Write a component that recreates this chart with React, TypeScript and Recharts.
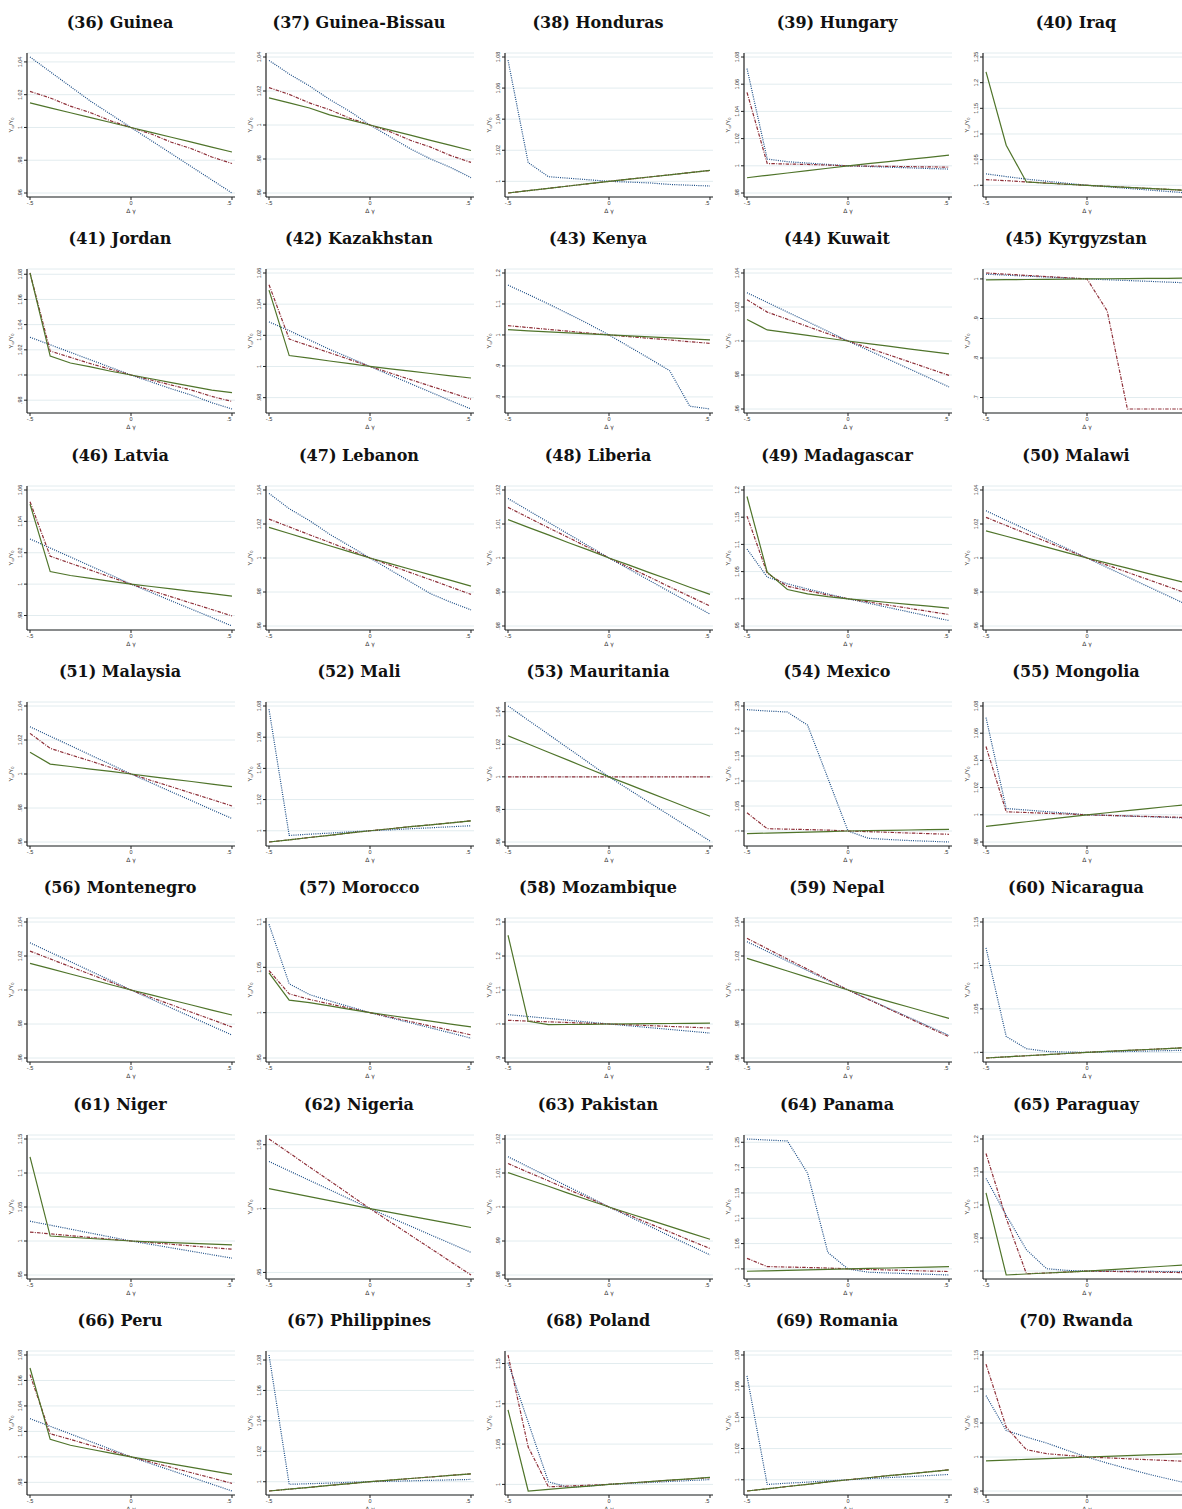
import React from "react";
import { LineChart, Line, XAxis, YAxis, CartesianGrid } from "recharts";

// x grid of the simulation (Δγ)
const xValues = [-0.5, -0.4, -0.3, -0.2, -0.1, 0, 0.1, 0.2, 0.3, 0.4, 0.5];
const xTicks = [-0.5, 0, 0.5];

const titles = [
  "(36) Guinea", "(37) Guinea-Bissau", "(38) Honduras", "(39) Hungary", "(40) Iraq",
  "(41) Jordan", "(42) Kazakhstan", "(43) Kenya", "(44) Kuwait", "(45) Kyrgyzstan",
  "(46) Latvia", "(47) Lebanon", "(48) Liberia", "(49) Madagascar", "(50) Malawi",
  "(51) Malaysia", "(52) Mali", "(53) Mauritania", "(54) Mexico", "(55) Mongolia",
  "(56) Montenegro", "(57) Morocco", "(58) Mozambique", "(59) Nepal", "(60) Nicaragua",
  "(61) Niger", "(62) Nigeria", "(63) Pakistan", "(64) Panama", "(65) Paraguay",
  "(66) Peru", "(67) Philippines", "(68) Poland", "(69) Romania", "(70) Rwanda",
];

const yTicks = [
  [0.96, 0.98, 1, 1.02, 1.04],
  [0.96, 0.98, 1, 1.02, 1.04],
  [1, 1.02, 1.04, 1.06, 1.08],
  [0.98, 1, 1.02, 1.04, 1.06, 1.08],
  [1, 1.05, 1.1, 1.15, 1.2, 1.25],
  [0.98, 1, 1.02, 1.04, 1.06, 1.08],
  [0.98, 1, 1.02, 1.04, 1.06],
  [0.8, 0.9, 1, 1.1, 1.2],
  [0.96, 0.98, 1, 1.02, 1.04],
  [0.7, 0.8, 0.9, 1],
  [0.98, 1, 1.02, 1.04, 1.06],
  [0.96, 0.98, 1, 1.02, 1.04],
  [0.98, 0.99, 1, 1.01, 1.02],
  [0.95, 1, 1.05, 1.1, 1.15, 1.2],
  [0.96, 0.98, 1, 1.02, 1.04],
  [0.96, 0.98, 1, 1.02, 1.04],
  [1, 1.02, 1.04, 1.06, 1.08],
  [0.96, 0.98, 1, 1.02, 1.04],
  [1, 1.05, 1.1, 1.15, 1.2, 1.25],
  [0.98, 1, 1.02, 1.04, 1.06, 1.08],
  [0.96, 0.98, 1, 1.02, 1.04],
  [0.95, 1, 1.05, 1.1],
  [0.9, 1, 1.1, 1.2, 1.3],
  [0.96, 0.98, 1, 1.02, 1.04],
  [1, 1.05, 1.1, 1.15],
  [0.95, 1, 1.05, 1.1, 1.15],
  [0.95, 1, 1.05],
  [0.98, 0.99, 1, 1.01, 1.02],
  [1, 1.05, 1.1, 1.15, 1.2, 1.25],
  [1, 1.05, 1.1, 1.15, 1.2],
  [0.98, 1, 1.02, 1.04, 1.06, 1.08],
  [1, 1.02, 1.04, 1.06, 1.08],
  [1, 1.05, 1.1, 1.15],
  [1, 1.02, 1.04, 1.06, 1.08],
  [0.95, 1, 1.05, 1.1, 1.15],
];

// blue dotted series
const blueSeries = [
  [1.043, 1.034, 1.025, 1.016, 1.008, 1, 0.992, 0.984, 0.976, 0.968, 0.96],
  [1.038, 1.03, 1.023, 1.015, 1.008, 1, 0.993, 0.986, 0.98, 0.975, 0.969],
  [1.078, 1.012, 1.003, 1.002, 1.001, 1, 0.9995, 0.999, 0.998, 0.9975, 0.997],
  [1.0715, 1.005, 1.003, 1.002, 1.001, 1, 0.9995, 0.999, 0.9985, 0.998, 0.9976],
  [1.0223, 1.017, 1.012, 1.008, 1.004, 1, 0.997, 0.994, 0.991, 0.988, 0.985],
  [1.03, 1.024, 1.018, 1.012, 1.006, 1, 0.9945, 0.989, 0.984, 0.978, 0.973],
  [1.0286, 1.023, 1.017, 1.011, 1.0055, 1, 0.9945, 0.989, 0.9835, 0.978, 0.9727],
  [1.161, 1.131, 1.1, 1.068, 1.035, 1, 0.962, 0.924, 0.885, 0.77, 0.761],
  [1.0284, 1.0227, 1.017, 1.0114, 1.0057, 1, 0.9946, 0.9892, 0.9838, 0.9784, 0.973],
  [1.012, 1.0096, 1.0072, 1.0048, 1.0024, 1, 0.998, 0.996, 0.994, 0.992, 0.99],
  [1.0288, 1.023, 1.0173, 1.0115, 1.0058, 1, 0.9947, 0.9893, 0.984, 0.9787, 0.9733],
  [1.038, 1.029, 1.022, 1.014, 1.007, 1, 0.993, 0.986, 0.979, 0.974, 0.9695],
  [1.0175, 1.014, 1.0105, 1.007, 1.0035, 1, 0.9967, 0.9934, 0.9901, 0.9868, 0.9835],
  [1.0915, 1.04, 1.0275, 1.018, 1.009, 1, 0.992, 0.984, 0.976, 0.968, 0.96],
  [1.0278, 1.0222, 1.0167, 1.0111, 1.0056, 1, 0.9944, 0.9889, 0.9833, 0.9778, 0.9722],
  [1.0278, 1.0222, 1.0167, 1.0111, 1.0056, 1, 0.9948, 0.9895, 0.9843, 0.979, 0.9738],
  [1.0779, 0.997, 0.9978, 0.9985, 0.9993, 1, 1.0006, 1.0013, 1.0019, 1.0026, 1.0032],
  [1.0435, 1.0348, 1.0261, 1.0174, 1.0087, 1, 0.9921, 0.9842, 0.9764, 0.9685, 0.9606],
  [1.2427, 1.24, 1.238, 1.2116, 1.106, 1, 0.9855, 0.983, 0.981, 0.9795, 0.978],
  [1.0715, 1.0046, 1.0035, 1.0023, 1.0012, 1, 0.9995, 0.999, 0.9986, 0.9981, 0.9976],
  [1.0278, 1.0222, 1.0167, 1.0111, 1.0056, 1, 0.9947, 0.9894, 0.9841, 0.9788, 0.9735],
  [1.0975, 1.0318, 1.02, 1.013, 1.0065, 1, 0.9944, 0.9888, 0.9832, 0.9776, 0.9719],
  [1.0275, 1.022, 1.0165, 1.011, 1.0055, 1, 0.9947, 0.9894, 0.9841, 0.9788, 0.9735],
  [1.0284, 1.0227, 1.017, 1.0114, 1.0057, 1, 0.9947, 0.9893, 0.984, 0.9786, 0.9733],
  [1.1202, 1.0183, 1.0042, 1.0011, 1.0003, 1, 1.0005, 1.001, 1.0015, 1.002, 1.0025],
  [1.0291, 1.0233, 1.0175, 1.0116, 1.0058, 1, 0.995, 0.9899, 0.9849, 0.9798, 0.9748],
  [1.0369, 1.0295, 1.0221, 1.0148, 1.0074, 1, 0.9931, 0.9863, 0.9794, 0.9726, 0.9657],
  [1.0148, 1.0118, 1.0089, 1.0059, 1.003, 1, 0.9972, 0.9944, 0.9915, 0.9887, 0.9859],
  [1.2565, 1.2545, 1.2526, 1.189, 1.0326, 1, 0.9935, 0.9921, 0.9907, 0.9894, 0.988],
  [1.1403, 1.0846, 1.0323, 1.0035, 1.001, 1, 0.9998, 0.9996, 0.9994, 0.9992, 0.999],
  [1.03, 1.024, 1.018, 1.012, 1.006, 1, 0.9946, 0.9893, 0.9839, 0.9786, 0.9732],
  [1.0833, 0.9983, 0.9987, 0.9991, 0.9996, 1, 1.0003, 1.0006, 1.0009, 1.0012, 1.0015],
  [1.1512, 1.0772, 1.0033, 0.9963, 0.998, 1, 1.0012, 1.0024, 1.0036, 1.0048, 1.006],
  [1.0666, 0.997, 0.9978, 0.9985, 0.9993, 1, 1.0007, 1.0014, 1.002, 1.0027, 1.0034],
  [1.0902, 1.039, 1.0293, 1.0205, 1.01, 1, 0.991, 0.983, 0.975, 0.968, 0.961],
];

// red dash-dot series
const redSeries = [
  [1.022, 1.018, 1.013, 1.009, 1.004, 1, 0.996, 0.991, 0.987, 0.982, 0.978],
  [1.022, 1.018, 1.013, 1.009, 1.004, 1, 0.996, 0.991, 0.987, 0.982, 0.978],
  [0.9925, 0.994, 0.9955, 0.997, 0.9985, 1, 1.0014, 1.0028, 1.0042, 1.0056, 1.007],
  [1.054, 1.0017, 1.0013, 1.001, 1.0005, 1, 0.9998, 0.9996, 0.9994, 0.9992, 0.999],
  [1.011, 1.009, 1.0065, 1.0045, 1.002, 1, 0.998, 0.996, 0.994, 0.992, 0.99],
  [1.081, 1.019, 1.014, 1.009, 1.0045, 1, 0.996, 0.992, 0.988, 0.983, 0.979],
  [1.0525, 1.0176, 1.0132, 1.0088, 1.0044, 1, 0.9958, 0.9916, 0.9874, 0.9832, 0.979],
  [1.03, 1.024, 1.018, 1.012, 1.006, 1, 0.9945, 0.989, 0.984, 0.978, 0.973],
  [1.0243, 1.017, 1.0128, 1.0085, 1.0043, 1, 0.996, 0.9919, 0.9879, 0.9838, 0.9798],
  [1.015, 1.012, 1.009, 1.006, 1.003, 1, 0.919, 0.671, 0.671, 0.671, 0.671],
  [1.0525, 1.0178, 1.0133, 1.0089, 1.0044, 1, 0.9959, 0.9919, 0.9878, 0.9838, 0.9797],
  [1.0229, 1.0183, 1.0137, 1.0092, 1.0046, 1, 0.9957, 0.9914, 0.9872, 0.9829, 0.9786],
  [1.0149, 1.0119, 1.0089, 1.006, 1.003, 1, 0.9972, 0.9944, 0.9915, 0.9887, 0.9859],
  [1.152, 1.047, 1.023, 1.015, 1.007, 1, 0.9942, 0.9884, 0.9826, 0.9768, 0.971],
  [1.0239, 1.0191, 1.0143, 1.0096, 1.0048, 1, 0.9958, 0.9916, 0.9874, 0.9832, 0.979],
  [1.0239, 1.0151, 1.0113, 1.0076, 1.0038, 1, 0.9962, 0.9925, 0.9887, 0.985, 0.9812],
  [0.9928, 0.9942, 0.9957, 0.9971, 0.9986, 1, 1.0013, 1.0026, 1.0038, 1.0051, 1.0064],
  [1, 1, 1, 1, 1, 1, 1, 1, 1, 1, 1],
  [1.0364, 1.0046, 1.0037, 1.0028, 1.0018, 1, 0.9987, 0.9974, 0.996, 0.9947, 0.9934],
  [1.0502, 1.0022, 1.0017, 1.0011, 1.0006, 1, 0.9996, 0.9992, 0.9988, 0.9984, 0.998],
  [1.0229, 1.0183, 1.0137, 1.0092, 1.0046, 1, 0.9956, 0.9913, 0.9869, 0.9826, 0.9782],
  [1.0464, 1.0208, 1.0146, 1.0097, 1.0048, 1, 0.9951, 0.9902, 0.9853, 0.9804, 0.9755],
  [1.0108, 1.0086, 1.0065, 1.0043, 1.0022, 1, 0.9976, 0.9953, 0.9929, 0.9906, 0.9882],
  [1.0304, 1.0243, 1.0182, 1.0122, 1.0061, 1, 0.9945, 0.989, 0.9835, 0.978, 0.9725],
  [0.9935, 0.9948, 0.9961, 0.9974, 0.9987, 1, 1.0011, 1.0022, 1.0033, 1.0044, 1.0055],
  [1.0131, 1.0105, 1.0079, 1.0052, 1.0026, 1, 0.9976, 0.9952, 0.9927, 0.9903, 0.9879],
  [1.0545, 1.0436, 1.0327, 1.0218, 1.0109, 1, 0.9896, 0.9792, 0.9688, 0.9584, 0.948],
  [1.0128, 1.0102, 1.0077, 1.0051, 1.0026, 1, 0.9976, 0.9951, 0.9927, 0.9902, 0.9878],
  [1.0209, 1.0046, 1.0037, 1.0028, 1.0018, 1, 0.999, 0.9979, 0.9969, 0.9958, 0.9948],
  [1.178, 1.08, 0.996, 0.997, 0.9985, 1, 0.9995, 0.999, 0.9985, 0.998, 0.9975],
  [1.0646, 1.0182, 1.0137, 1.0091, 1.0046, 1, 0.9958, 0.9917, 0.9875, 0.9834, 0.9792],
  [0.9939, 0.9951, 0.9963, 0.9976, 0.9988, 1, 1.001, 1.0021, 1.0031, 1.0042, 1.0052],
  [1.1606, 1.0464, 0.997, 0.998, 0.999, 1, 1.0017, 1.0034, 1.005, 1.0067, 1.0084],
  [0.9928, 0.9942, 0.9957, 0.9971, 0.9986, 1, 1.0013, 1.0026, 1.0038, 1.0051, 1.0064],
  [1.1366, 1.0439, 1.0107, 1.0049, 1.0024, 1, 0.9987, 0.9974, 0.9961, 0.9948, 0.9935],
];

// green solid series
const greenSeries = [
  [1.015, 1.012, 1.009, 1.006, 1.003, 1, 0.997, 0.994, 0.991, 0.988, 0.985],
  [1.016, 1.013, 1.01, 1.006, 1.003, 1, 0.997, 0.994, 0.991, 0.988, 0.985],
  [0.9925, 0.994, 0.9955, 0.997, 0.9985, 1, 1.0014, 1.0028, 1.0042, 1.0056, 1.007],
  [0.9912, 0.993, 0.9947, 0.9965, 0.9982, 1, 1.0016, 1.0031, 1.0047, 1.0062, 1.0078],
  [1.221, 1.078, 1.0065, 1.004, 1.002, 1, 0.998, 0.996, 0.994, 0.992, 0.99],
  [1.081, 1.015, 1.0095, 1.0065, 1.003, 1, 0.997, 0.994, 0.991, 0.988, 0.986],
  [1.049, 1.007, 1.0053, 1.0035, 1.0018, 1, 0.9985, 0.997, 0.9955, 0.994, 0.9926],
  [1.017, 1.0135, 1.01, 1.0068, 1.0034, 1, 0.9968, 0.9936, 0.9904, 0.9872, 0.984],
  [1.0127, 1.0065, 1.0049, 1.0033, 1.0016, 1, 0.9985, 0.997, 0.9954, 0.9939, 0.9924],
  [0.9975, 0.998, 0.9985, 0.999, 0.9995, 1, 1.0004, 1.0008, 1.0012, 1.0016, 1.002],
  [1.051, 1.008, 1.0055, 1.0037, 1.0018, 1, 0.9985, 0.997, 0.9954, 0.9939, 0.9924],
  [1.018, 1.0144, 1.0108, 1.0072, 1.0036, 1, 0.9967, 0.9934, 0.9901, 0.9868, 0.9835],
  [1.0113, 1.009, 1.0068, 1.0045, 1.0023, 1, 0.9979, 0.9957, 0.9936, 0.9914, 0.9893],
  [1.188, 1.049, 1.017, 1.009, 1.004, 1, 0.9966, 0.9932, 0.9898, 0.9864, 0.983],
  [1.016, 1.0128, 1.0096, 1.0064, 1.0032, 1, 0.997, 0.994, 0.991, 0.988, 0.985],
  [1.0128, 1.0058, 1.0044, 1.0029, 1.0015, 1, 0.9985, 0.997, 0.9956, 0.9941, 0.9926],
  [0.9928, 0.9942, 0.9957, 0.9971, 0.9986, 1, 1.0013, 1.0026, 1.0038, 1.0051, 1.0064],
  [1.0252, 1.0202, 1.0151, 1.0101, 1.005, 1, 0.9952, 0.9903, 0.9855, 0.9806, 0.9758],
  [0.9947, 0.9958, 0.9968, 0.9979, 0.9989, 1, 1.0007, 1.0013, 1.002, 1.0026, 1.0033],
  [0.9915, 0.9932, 0.9949, 0.9966, 0.9983, 1, 1.0015, 1.003, 1.0046, 1.0061, 1.0076],
  [1.0157, 1.0126, 1.0094, 1.0063, 1.0031, 1, 0.9971, 0.9941, 0.9912, 0.9882, 0.9853],
  [1.0438, 1.0139, 1.011, 1.0074, 1.0037, 1, 0.9969, 0.9937, 0.9906, 0.9874, 0.9843],
  [1.261, 1.0078, 0.998, 0.9985, 0.999, 1, 1.0005, 1.001, 1.0015, 1.002, 1.0025],
  [1.0186, 1.0149, 1.0112, 1.0074, 1.0037, 1, 0.9967, 0.9933, 0.99, 0.9866, 0.9833],
  [0.9935, 0.9948, 0.9961, 0.9974, 0.9987, 1, 1.0011, 1.0022, 1.0033, 1.0044, 1.0055],
  [1.1238, 1.0073, 1.0055, 1.0037, 1.0018, 1, 0.9988, 0.9977, 0.9965, 0.9954, 0.9942],
  [1.0156, 1.0125, 1.0094, 1.0062, 1.0031, 1, 0.997, 0.9941, 0.9911, 0.9882, 0.9852],
  [1.0101, 1.0081, 1.0061, 1.004, 1.002, 1, 0.9981, 0.9962, 0.9943, 0.9924, 0.9905],
  [0.9954, 0.9963, 0.9972, 0.9982, 0.9991, 1, 1.0009, 1.0018, 1.0028, 1.0037, 1.0046],
  [1.1184, 0.994, 0.9955, 0.997, 0.9985, 1, 1.0019, 1.0038, 1.0057, 1.0076, 1.0095],
  [1.0698, 1.0138, 1.0091, 1.006, 1.003, 1, 0.9972, 0.9945, 0.9917, 0.989, 0.9862],
  [0.9939, 0.9951, 0.9963, 0.9976, 0.9988, 1, 1.001, 1.0021, 1.0031, 1.0042, 1.0052],
  [1.0925, 0.9918, 0.9938, 0.9959, 0.9979, 1, 1.0017, 1.0034, 1.0052, 1.0069, 1.0086],
  [0.9928, 0.9942, 0.9957, 0.9971, 0.9986, 1, 1.0013, 1.0026, 1.0038, 1.0051, 1.0064],
  [0.9942, 0.9954, 0.9965, 0.9977, 0.9988, 1, 1.001, 1.002, 1.003, 1.004, 1.005],
];

const PANEL_W = 239.1;
const PANEL_H = 216.3;
const CHART_W = 239;
const CHART_H = 216;

const BLUE = "#1b4d86";
const RED = "#8e2f38";
const GREEN = "#4f742a";
const AXIS = "#222";

// stata style labels: .98 instead of 0.98
const fmt = (v: number) => String(v).replace(/^0\./, ".").replace(/^-0\./, "-.");

const XTick = (props: any) => {
  const { x, y, payload } = props;
  return (
    <text x={x} y={y} dy="0.71em" textAnchor="middle" fontSize={5.5} fill="#333" fontFamily="Liberation Sans, Arial, sans-serif">
      {fmt(payload.value)}
    </text>
  );
};

const YTick = (props: any) => {
  const { x, y, payload } = props;
  return (
    <text
      x={x}
      y={y}
      transform={`rotate(-90 ${x} ${y})`}
      textAnchor="middle"
      fontSize={5.5}
      fill="#333"
      fontFamily="Liberation Sans, Arial, sans-serif"
    >
      {fmt(payload.value)}
    </text>
  );
};

const Panel = ({ index }: { index: number }) => {
  const blue = blueSeries[index];
  const red = redSeries[index];
  const green = greenSeries[index];
  const ticks = yTicks[index];
  const rows = xValues.map((x, i) => ({ x, blue: blue[i], red: red[i], green: green[i] }));

  const all = [...blue, ...red, ...green, ...ticks];
  const lo = Math.min(...all);
  const hi = Math.max(...all);
  const pad = ((hi - lo) * 4) / 136;

  const col = index % 5;
  const row = Math.floor(index / 5);

  return (
    <div style={{ position: "absolute", left: col * PANEL_W, top: row * PANEL_H, width: CHART_W, height: CHART_H }}>
      <LineChart width={CHART_W} height={CHART_H} data={rows} margin={{ top: 53, right: 4, bottom: 0, left: 0 }}>
        <CartesianGrid vertical={false} stroke="#e2ecef" strokeWidth={1} />
        <XAxis
          dataKey="x"
          type="number"
          domain={[-0.5149, 0.5149]}
          ticks={xTicks}
          allowDataOverflow
          height={19}
          tickSize={3}
          tickMargin={1}
          tick={XTick}
          axisLine={{ stroke: AXIS, strokeWidth: 1.2 }}
          tickLine={{ stroke: AXIS }}
        />
        <YAxis
          type="number"
          domain={[lo - pad, hi + pad]}
          ticks={ticks}
          interval={0}
          allowDataOverflow
          width={27}
          tickSize={3}
          tickMargin={2}
          tick={YTick}
          axisLine={{ stroke: AXIS, strokeWidth: 1.2 }}
          tickLine={{ stroke: AXIS }}
        />
        <Line type="linear" dataKey="blue" stroke={BLUE} strokeWidth={1.2} strokeDasharray="1 1.2" dot={false} isAnimationActive={false} />
        <Line type="linear" dataKey="red" stroke={RED} strokeWidth={1.2} strokeDasharray="3.5 1.3 1 1.3" dot={false} isAnimationActive={false} />
        <Line type="linear" dataKey="green" stroke={GREEN} strokeWidth={1.2} dot={false} isAnimationActive={false} />
      </LineChart>
      <svg width={CHART_W} height={CHART_H} style={{ position: "absolute", left: 0, top: 0, pointerEvents: "none" }}>
        <text x={120} y={28} textAnchor="middle" fontFamily="DejaVu Serif, serif" fontWeight="bold" fontSize={16} fill="#111">
          {titles[index]}
        </text>
        <text
          x={13}
          y={125}
          transform="rotate(-90 13 125)"
          textAnchor="middle"
          fontSize={6}
          fill="#333"
          fontFamily="Liberation Sans, Arial, sans-serif"
        >
          Y<tspan fontSize={4} dy={1.2}>ω</tspan>
          <tspan dy={-1.2}>/Y</tspan>
          <tspan fontSize={4} dy={1.2}>0</tspan>
        </text>
        <text x={131} y={212.5} textAnchor="middle" fontSize={6} fill="#333" fontFamily="DejaVu Sans, sans-serif">
          Δ γ
        </text>
      </svg>
    </div>
  );
}

export default function App() {
  return (
    <div
      style={{
        position: "absolute",
        left: 0,
        top: 0,
        width: 1182,
        height: 1509,
        overflow: "hidden",
        background: "#fff",
      }}
    >
      {titles.map((_, i) => (
        <Panel key={i} index={i} />
      ))}
    </div>
  );
}
